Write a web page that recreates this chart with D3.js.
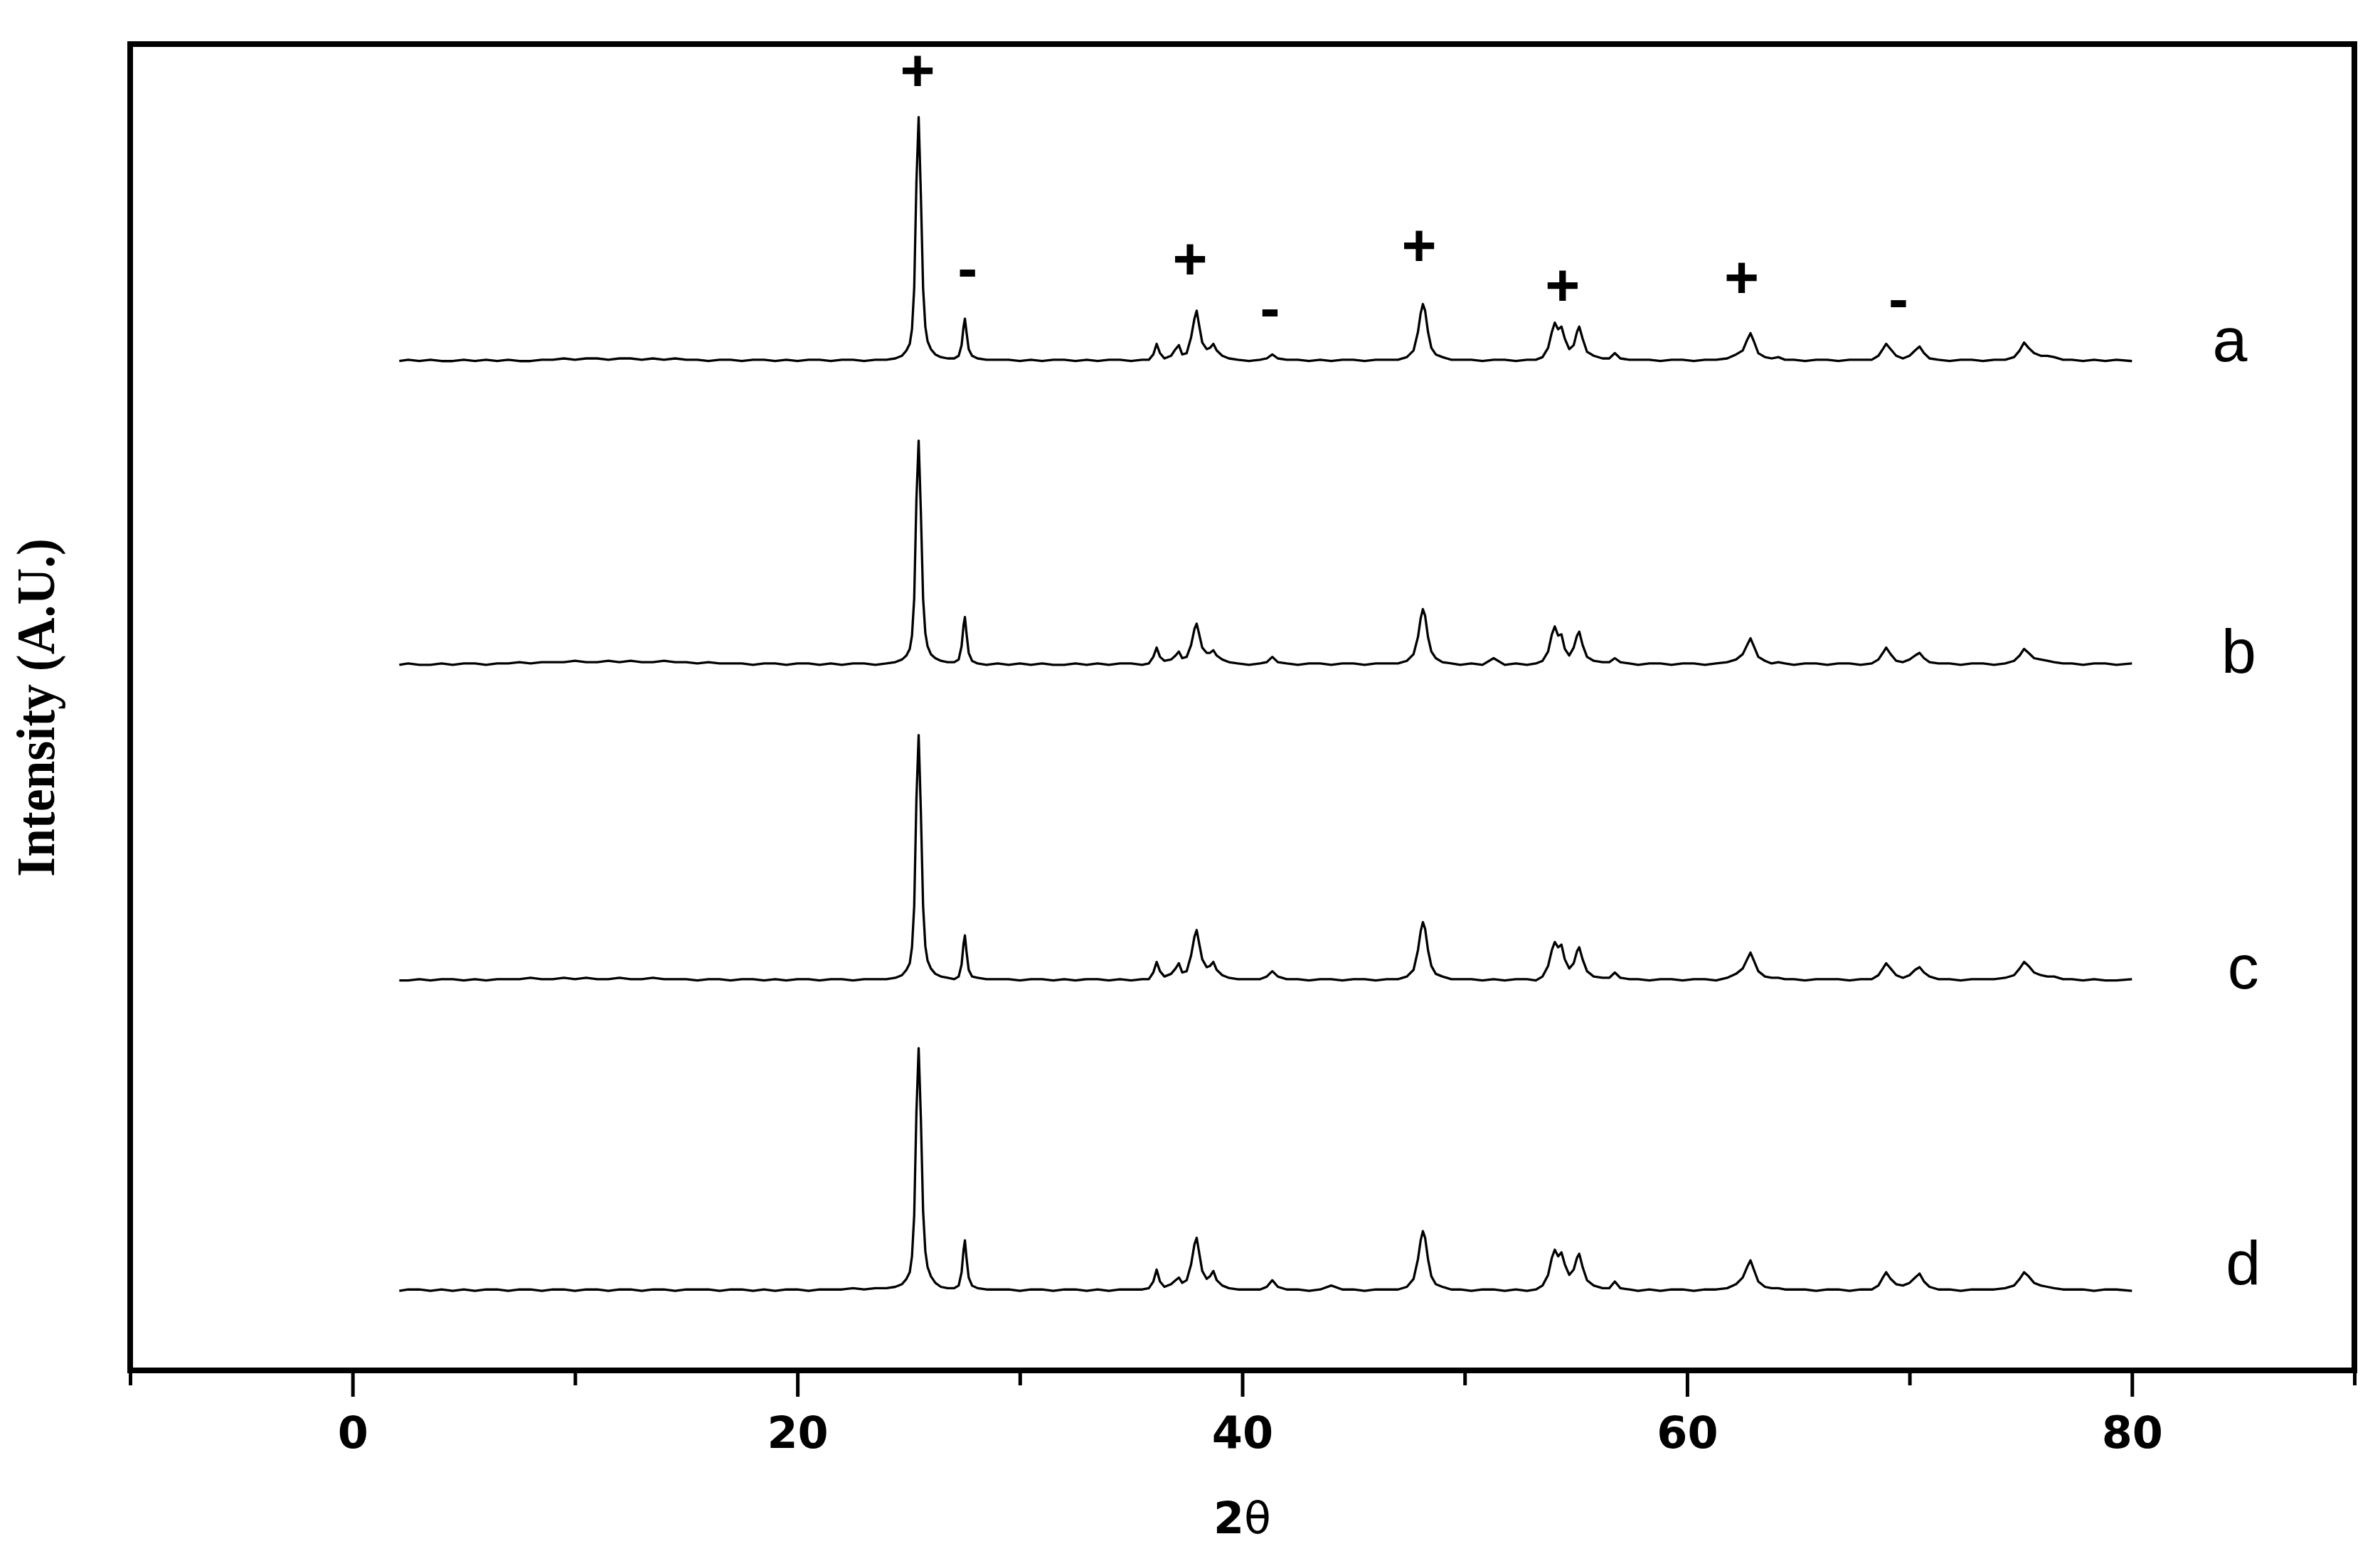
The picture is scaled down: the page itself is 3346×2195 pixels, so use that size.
<!DOCTYPE html>
<html>
<head>
<meta charset="utf-8">
<script src="https://cdn.jsdelivr.net/npm/d3@7"></script>
<style>
html, body { margin: 0; padding: 0; background: #ffffff; }
svg { display: block; }
</style>
</head>
<body>
<svg id="chart" width="3346" height="2195"></svg>
<script>
// ---- data ----
// shared 2-theta grid (degrees)
const twoTheta = [
  2.1, 2.5, 3, 3.5, 4, 4.5, 5, 5.5, 6, 6.5, 7, 7.5, 8, 8.5, 9, 9.5, 10, 10.5, 11, 11.5, 12, 12.5, 13, 13.5, 14, 14.5, 15, 15.5, 16, 16.5, 17, 17.5, 18, 18.5, 19, 19.5, 20, 20.5, 21, 21.5, 22, 22.5, 23, 23.5,
  24, 24.4, 24.7, 24.9, 25.05, 25.15, 25.25, 25.35, 25.45, 25.55, 25.65, 25.75, 25.85, 26.0, 26.2, 26.45, 26.75, 27.05, 27.25, 27.38, 27.47, 27.53, 27.6, 27.7, 27.85, 28.1, 28.5, 29.0,
  29.5, 30, 30.5, 31, 31.5, 32, 32.5, 33, 33.5, 34, 34.5, 35, 35.5,
  35.8, 36.0, 36.15, 36.3, 36.5, 36.8, 37.0, 37.15, 37.3, 37.5, 37.7, 37.85, 37.95, 38.05, 38.2, 38.4, 38.55, 38.7, 38.85, 39.1, 39.4, 39.8, 40.3,
  40.8, 41.1, 41.35, 41.6, 42.0, 42.5, 43, 43.5, 44, 44.5, 45, 45.5, 46, 46.5,
  47.0, 47.4, 47.7, 47.9, 48.02, 48.12, 48.22, 48.35, 48.5, 48.7, 49.0, 49.4, 49.8,
  50.3, 50.8, 51.3, 51.8, 52.3, 52.8, 53.2,
  53.5, 53.75, 53.92, 54.05, 54.2, 54.35, 54.5, 54.7, 54.9, 55.05, 55.15, 55.3, 55.5, 55.8, 56.2, 56.5, 56.75, 57.0, 57.4, 57.8,
  58.3, 58.8, 59.3, 59.8, 60.3, 60.8, 61.3, 61.8, 62.2, 62.5, 62.7, 62.85, 63.0, 63.2, 63.5, 63.8, 64.1, 64.4, 64.8, 65.3, 65.8, 66.3, 66.8, 67.3,
  67.8, 68.3, 68.6, 68.8, 68.95, 69.15, 69.4, 69.7, 70.0, 70.25, 70.45, 70.65, 70.9, 71.3, 71.8, 72.3, 72.8, 73.3, 73.8, 74.3, 74.7, 74.95, 75.15, 75.35, 75.6, 75.9, 76.2, 76.5, 76.9, 77.3, 77.8, 78.3, 78.8, 79.3, 80.0
];

// intensity above each pattern's own baseline (A.U.)
const intensityA = [
  0,1,0,1,0,0,1,0,1,0, 1,0,0,1,1,2,1,2,2,1, 2,2,1,2,1,2,1,1,0,1, 1,0,1,1,0,1,0,1,1,0, 1,1,0,1,
  1,2,4,8,13,24,55,135,184,125,55,26,15,9,5,3,2, 2,4,12,26,32,22,9,4,2,1,1,
  1,0,1,0,1,1,0,1,0,1,1,0,1,
  1,5,13,6,2,4, 9,12,5,6,18,32,38, 28,14,9,10,13,8, 4,2,1, 0,
  1,2,5,2,1,1,0,1,0,1,1,0,1,1,
  1,3,8,22,36,43,38,22,10,5,3,1,1,
  1,0,1,1,0,1,1,
  3,10,22,29,24,26,17,9,12,22,26,17,7,4,2,2,6,2,1,1,
  1,0,1,1,0,1,1,2, 5,8,16,21, 15,6,3,2, 3,1,1, 0,1,1,0,1,
  1,1,4,9,13, 9,4,2, 4,8,11,6,2, 1,0, 1,1, 0,1, 1,3,8, 14,10,6,4, 4,3,1, 1,0, 1,0, 1,0
];
const intensityB = [
  0,1,0,0,1,0,1,1,0,1, 1,2,1,2,2,2,3,2,2,3, 2,3,2,2,3,2,2,1,2,1, 1,1,0,1,1,0,1,1,0,1, 0,1,1,0,
  1,2,4,7,12,22,50,125,169,115,50,24,14,8,5,3,2, 2,4,14,30,36,24,9,3,1,0,1,
  0,1,0,1,0,0,1,0,1,0,1,1,0,
  1,6,13,6,3,4, 7,10,5,6,15,27,31, 24,13,9,9,11,7, 4,2,1, 0,
  1,2,6,2,1,0,1,1,0,1,1,0,1,1,
  1,3,8,21,35,42,37,21,10,5,2,1,0,
  1,0,5,0,1,0,1,
  3,10,23,29,22,23,12,7,13,22,25,15,6,3,2,2,5,2,1,0,
  1,1,0,1,1,0,1,2, 4,8,15,20, 14,6,3,1, 2,1,0, 1,1,0,1,1,
  0,1,4,9,13, 8,3,2, 4,7,9,5,2, 1,1, 0,1, 1,0, 1,3,7, 12,9,5,4, 3,2,1, 1,0, 1,1, 0,1
];
const intensityC = [
  0,0,1,0,1,1,0,1,0,1, 1,1,2,1,1,2,1,2,1,1, 2,1,1,2,1,1,1,0,1,1, 0,1,1,0,1,0,1,1,0,1, 1,0,1,1,
  1,2,4,8,13,25,56,137,185,127,56,26,15,9,5,3,2, 1,3,12,28,34,22,8,3,2,1,1,
  1,0,1,1,0,1,0,1,1,0,1,0,1,
  1,6,14,7,3,5, 9,13,6,7,19,33,38, 29,16,10,11,14,8, 4,2,1, 1,
  1,3,7,3,1,1,0,1,1,0,1,1,0,1,
  1,3,8,23,37,44,39,23,11,5,3,1,1,
  1,0,1,0,1,1,0,
  3,11,23,29,25,27,16,9,13,22,25,16,7,3,2,2,6,2,1,1,
  0,1,1,0,1,1,0,2, 5,9,16,21, 15,7,3,2, 2,1,1, 0,1,1,1,0,
  1,1,4,9,13, 9,4,2, 4,8,10,6,3, 1,1, 0,1, 1,1, 2,4,9, 14,11,6,4, 3,3,1, 1,0, 1,0, 0,1
];
const intensityD = [
  0,1,1,0,1,0,1,0,1,1, 0,1,1,0,1,1,0,1,1,0, 1,1,0,1,1,0,1,1,1,0, 1,1,0,1,0,1,1,0,1,1, 1,2,1,2,
  2,3,5,9,14,26,57,135,183,130,60,30,18,11,6,3,2, 2,4,14,31,38,25,10,4,2,1,1,
  1,0,1,1,0,1,1,0,1,0,1,1,1,
  2,7,16,7,3,5, 8,10,6,8,20,35,40, 30,15,9,11,15,8, 4,2,1, 1,
  1,3,8,3,1,1,0,1,4,1,1,0,1,1,
  1,3,9,24,38,45,40,24,11,5,3,1,1,
  0,1,1,0,1,0,1,
  4,12,25,31,26,29,20,12,16,25,28,18,8,4,2,2,7,2,1,0,
  1,0,1,1,0,1,1,2, 5,10,18,23, 16,7,3,2, 2,1,1, 1,0,1,1,0,
  1,1,4,10,14, 9,5,4, 6,10,13,7,3, 1,1, 0,1, 1,1, 2,4,9, 14,11,6,4, 3,2,1, 1,1, 0,1, 1,0
];

const seriesNames = ["a", "b", "c", "d"];
const seriesOffsets = [761, 532, 294, 60];          // stacking offsets (A.U.)
const seriesLabelTwoTheta = [84.4, 84.8, 85.0, 85.0];
const seriesLabelLevel = [761, 526, 288, 65];

// phase markers above pattern a
const markerSymbols  = ["+", "-", "+", "-", "+", "+", "+", "-"];
const markerTwoTheta = [25.4, 27.65, 37.65, 41.25, 47.95, 54.4, 62.45, 69.5];
const markerLevel    = [981, 829, 839, 799, 849, 819, 825, 806];

const xMajorTicks = [0, 20, 40, 60, 80];
const xMinorTicks = [-10, 10, 30, 50, 70, 90];
const xTickLabels = ["0", "20", "40", "60", "80"];
const xAxisTitle = ["2", "θ"];
const yAxisTitle = "Intensity (A.U.)";

// ---- drawing ----
const intensities = [intensityA, intensityB, intensityC, intensityD];
intensities.forEach((arr, i) => {
  if (arr.length !== twoTheta.length) console.error("length mismatch", seriesNames[i], arr.length, twoTheta.length);
});

const svg = d3.select("#chart");
svg.append("rect").attr("width", 3346).attr("height", 2195).attr("fill", "#ffffff");

const x = d3.scaleLinear().domain([-10, 90]).range([183, 3310]);
const y = d3.scaleLinear().domain([0, 1000]).range([1927, 62]);

// patterns
const line = d3.line().x(d => x(d[0])).y(d => y(d[1]));
svg.append("g").selectAll("path")
  .data(intensities.map((arr, i) => twoTheta.map((t, j) => [t, seriesOffsets[i] + arr[j]])))
  .join("path")
  .attr("d", line)
  .attr("fill", "none")
  .attr("stroke", "#000")
  .attr("stroke-width", 3.3)
  .attr("stroke-linejoin", "round");

// minor ticks
svg.append("g")
  .attr("transform", `translate(0,${y(0)})`)
  .call(d3.axisBottom(x).tickValues(xMinorTicks).tickSize(21).tickFormat(""))
  .call(g => g.select(".domain").remove())
  .call(g => g.selectAll("line").attr("stroke", "#000").attr("stroke-width", 5));

// major ticks with labels
svg.append("g")
  .attr("transform", `translate(0,${y(0)})`)
  .call(d3.axisBottom(x).tickValues(xMajorTicks).tickSize(37)
        .tickFormat((d, i) => xTickLabels[i]))
  .call(g => g.select(".domain").remove())
  .call(g => g.selectAll("line").attr("stroke", "#000").attr("stroke-width", 5))
  .call(g => g.selectAll("text")
        .attr("y", 109).attr("dy", 0)
        .attr("fill", "#000")
        .attr("font-family", "'DejaVu Sans', sans-serif")
        .attr("font-weight", "bold")
        .attr("font-size", 62));

// frame
svg.append("rect")
  .attr("x", x(-10)).attr("y", y(1000))
  .attr("width", x(90) - x(-10)).attr("height", y(0) - y(1000))
  .attr("fill", "none").attr("stroke", "#000").attr("stroke-width", 8);

// x-axis title
const xt = svg.append("text")
  .attr("x", x(40)).attr("y", 2156)
  .attr("text-anchor", "middle")
  .attr("font-family", "'DejaVu Sans', sans-serif")
  .attr("font-size", 62)
  .attr("fill", "#000");
xt.append("tspan").attr("font-weight", "bold").text(xAxisTitle[0]);
xt.append("tspan").attr("font-weight", "normal").text(xAxisTitle[1]);

// y-axis title
svg.append("text")
  .attr("transform", `translate(76,995) rotate(-90)`)
  .attr("text-anchor", "middle")
  .attr("font-family", "'Liberation Serif', 'Times New Roman', serif")
  .attr("font-weight", "bold")
  .attr("font-size", 76)
  .attr("textLength", 476)
  .attr("lengthAdjust", "spacingAndGlyphs")
  .attr("fill", "#000")
  .text(yAxisTitle);

// phase markers
svg.append("g").selectAll("text")
  .data(markerSymbols)
  .join("text")
  .attr("x", (d, i) => x(markerTwoTheta[i]))
  .attr("y", (d, i) => y(markerLevel[i]))
  .attr("dy", d => d === "+" ? "0.36em" : "0.3em")
  .attr("text-anchor", "middle")
  .attr("font-family", "'Liberation Sans', Arial, sans-serif")
  .attr("font-weight", "bold")
  .attr("font-size", 84)
  .attr("fill", "#000")
  .text(d => d);

// pattern labels
svg.append("g").selectAll("text")
  .data(seriesNames)
  .join("text")
  .attr("x", (d, i) => x(seriesLabelTwoTheta[i]))
  .attr("y", (d, i) => y(seriesLabelLevel[i]))
  .attr("text-anchor", "middle")
  .attr("font-family", "'Liberation Sans', Arial, sans-serif")
  .attr("font-size", 88)
  .attr("fill", "#000")
  .text(d => d);
</script>
</body>
</html>
